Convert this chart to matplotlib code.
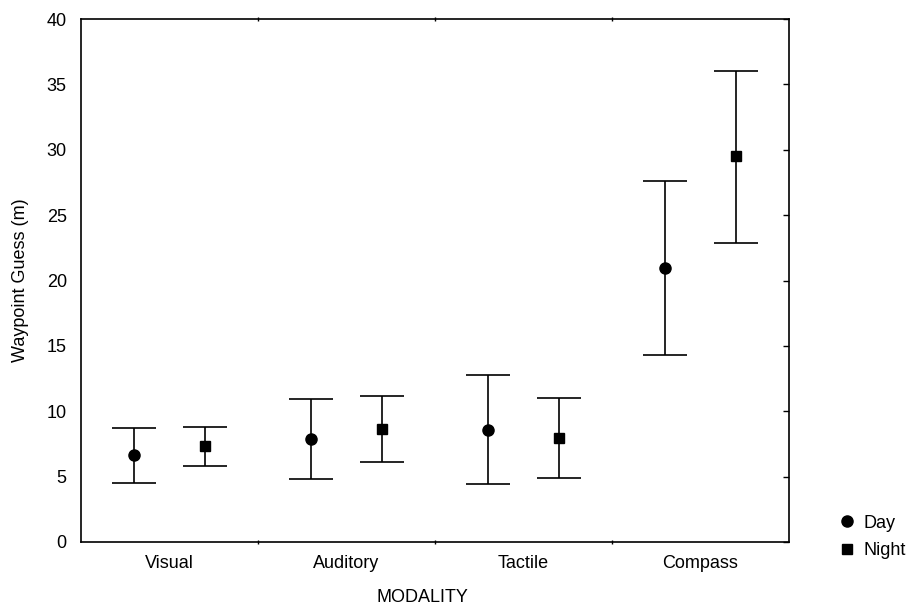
import matplotlib
matplotlib.use("Agg")
import matplotlib.pyplot as plt
from matplotlib.lines import Line2D
import numpy as np

plt.rcParams['font.family'] = ['Liberation Sans', 'DejaVu Sans']

categories = ["Visual", "Auditory", "Tactile", "Compass"]
day_mean = [6.65, 7.88, 8.57, 20.96]
day_low = [4.55, 4.8, 4.45, 14.3]
day_high = [8.72, 10.94, 12.75, 27.6]
night_mean = [7.35, 8.64, 7.95, 29.5]
night_low = [5.8, 6.12, 4.9, 22.9]
night_high = [8.8, 11.2, 11.0, 36.0]
series_names = ["Day", "Night"]

fs = 13

fig = plt.figure(figsize=(9.09, 6.05), dpi=100)
ax = fig.add_axes([80.7/909, 63/605, 708/909, 523/605])

x = np.arange(len(categories))
off = 0.2
lw = 1.2
for xs, m, lo, hi, mk in [(x - off, day_mean, day_low, day_high, 'o'),
                          (x + off, night_mean, night_low, night_high, 's')]:
    m = np.array(m); lo = np.array(lo); hi = np.array(hi)
    ax.errorbar(xs, m, yerr=[m - lo, hi - m], fmt=mk, color='black',
                ecolor='black', elinewidth=lw, capsize=15.5, capthick=lw,
                markersize=8 if mk == 'o' else 7.5)

ax.set_xlim(-0.5, len(categories) - 0.5)
ax.set_ylim(0, 40)
ax.set_yticks(np.arange(0, 41, 5))
ax.set_xticks(x)
ax.set_xticklabels(categories)
ax.set_xticks(np.arange(0.5, len(categories) - 0.5, 1), minor=True)
ax.tick_params(axis='x', which='major', length=0, pad=9, labelsize=fs)
ax.tick_params(axis='x', which='minor', length=3, direction='inout', top=True, width=1)
ax.tick_params(axis='y', which='major', left=False, right=True, direction='in', length=4,
               labelsize=fs, pad=10, width=1)
for s in ax.spines.values():
    s.set_linewidth(1.2)

ax.set_ylabel("Waypoint Guess (m)", fontsize=fs)
ax.yaxis.label.set_verticalalignment('center')
ax.yaxis.set_label_coords(-(80.7 - 21) / 708, 0.5)
ax.set_xlabel("MODALITY", fontsize=fs)
ax.xaxis.set_label_coords((422 - 80.7) / 708, -(597 - 542) / 523)
ax.xaxis.label.set_verticalalignment('center')

handles = [Line2D([], [], marker='o', color='black', linestyle='none', markersize=8),
           Line2D([], [], marker='s', color='black', linestyle='none', markersize=7.5)]
fig.legend(handles, series_names, loc='center left', bbox_to_anchor=(838/909, 1 - 537/605),
           frameon=False, fontsize=13, handletextpad=0.4, labelspacing=0.6,
           handlelength=1.0, borderpad=0, borderaxespad=0)

fig.savefig("out.png", dpi=100)
